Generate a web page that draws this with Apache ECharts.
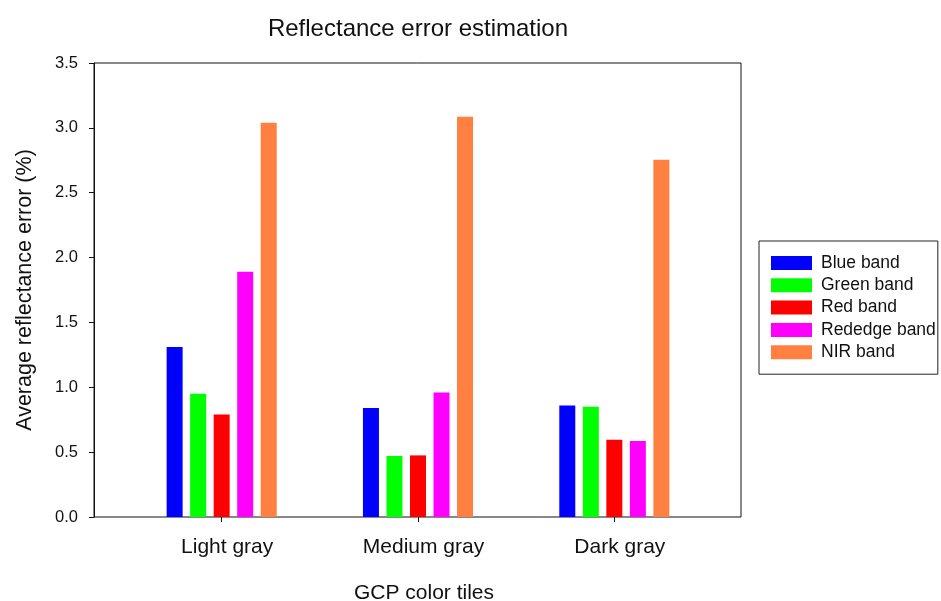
<!DOCTYPE html>
<html>
<head>
<meta charset="utf-8">
<script src="https://cdn.jsdelivr.net/npm/echarts@6/dist/echarts.min.js"></script>
<style>html,body{margin:0;padding:0;background:#fff}#c{width:941px;height:601px}</style>
</head>
<body>
<div id="c"></div>
<script>
const categories = ['Light gray', 'Medium gray', 'Dark gray'];
const seriesNames = ['Blue band', 'Green band', 'Red band', 'Rededge band', 'NIR band'];
const blueBand = [1.31, 0.84, 0.86];
const greenBand = [0.95, 0.47, 0.85];
const redBand = [0.79, 0.475, 0.595];
const rededgeBand = [1.89, 0.96, 0.585];
const nirBand = [3.04, 3.085, 2.755];
const yTicks = ['0.0','0.5','1.0','1.5','2.0','2.5','3.0','3.5'];
const seriesData = [blueBand, greenBand, redBand, rededgeBand, nirBand];
const colors = ['#0000FF', '#00FF00', '#FF0000', '#FF00FF', '#FF8040'];

const font = 'Liberation Sans, Arial, sans-serif';
const chart = echarts.init(document.getElementById('c'));
chart.setOption({
  animation: false,
  backgroundColor: '#fff',
  title: {
    text: 'Reflectance error estimation',
    left: 413, top: 12, textAlign: 'center',
    textStyle: { fontFamily: font, fontSize: 24, fontWeight: 'normal', color: '#111' }
  },
  legend: {
    orient: 'vertical',
    left: 759, top: 241,
    padding: [13, 2, 13, 12],
    borderColor: '#222', borderWidth: 1,
    itemWidth: 41, itemHeight: 14, itemGap: 4.3,
    icon: 'rect',
    data: seriesNames,
    textStyle: { fontFamily: font, fontSize: 17.5, color: '#111', padding: [0, 0, 0, 4] }
  },
  grid: [
    { left: 94, right: 200, top: 63, bottom: 84, show: true, borderColor: '#111', borderWidth: 1,
      backgroundColor: 'transparent', containLabel: false, outerBoundsMode: 'none' },
    { left: 123.5, right: 228.5, top: 63, bottom: 84, containLabel: false, outerBoundsMode: 'none' }
  ],
  xAxis: [
    { type: 'value', gridIndex: 0, min: 0, max: 1, show: false },
    {
      type: 'category', gridIndex: 1, data: categories,
      axisLine: { show: false },
      axisTick: { show: true, alignWithLabel: true, length: 5, lineStyle: { color: '#111' } },
      axisLabel: { fontFamily: font, fontSize: 21, color: '#111', margin: 20, padding: [0, 0, 0, 11] },
      name: 'GCP color tiles', nameLocation: 'middle', nameGap: 66,
      nameTextStyle: { fontFamily: font, fontSize: 21, color: '#111', padding: [0, 0, 0, 12] }
    }
  ],
  yAxis: [
    {
      type: 'value', gridIndex: 0, min: 0, max: 3.5, interval: 0.5,
      axisLine: { show: true, lineStyle: { color: '#111' } },
      axisTick: { show: true, inside: false, length: 5, lineStyle: { color: '#111' } },
      splitLine: { show: false },
      axisLabel: { fontFamily: font, fontSize: 16.5, color: '#111', margin: 16,
        formatter: function (v) { return yTicks[Math.round(v / 0.5)]; } },
      name: 'Average reflectance error (%)', nameLocation: 'middle', nameGap: 58,
      nameTextStyle: { fontFamily: font, fontSize: 21.5, color: '#111' }
    },
    { type: 'value', gridIndex: 1, min: 0, max: 3.5, interval: 0.5, show: false }
  ],
  series: seriesNames.map(function (n, i) {
    return {
      name: n, type: 'bar', xAxisIndex: 1, yAxisIndex: 1,
      data: seriesData[i], barWidth: 16, barGap: '47%',
      itemStyle: { color: colors[i] }
    };
  })
});
</script>
</body>
</html>
